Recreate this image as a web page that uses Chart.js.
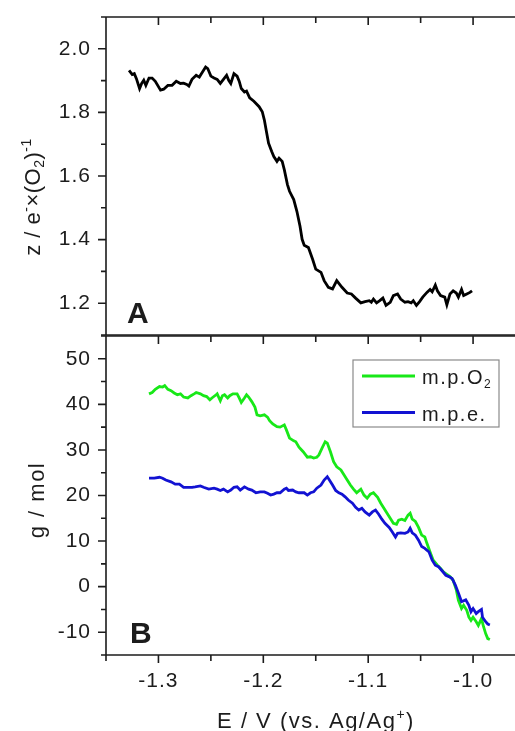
<!DOCTYPE html>
<html>
<head>
<meta charset="utf-8">
<script src="https://cdn.jsdelivr.net/npm/chart.js@4.4.1/dist/chart.umd.min.js"></script>
<style>
  html, body { margin: 0; padding: 0; background: #fff; overflow: hidden; }
  #wrap { position: relative; width: 515px; height: 731px; overflow: hidden; }
  #wrap canvas { position: absolute; left: 0; }
  #panelA { top: 0; }
  #panelB { top: 326px; }
</style>
</head>
<body>
<div id="wrap">
  <canvas id="panelA" width="540" height="345"></canvas>
  <canvas id="panelB" width="540" height="405"></canvas>
</div>
<script>
const FONT = '"Liberation Sans", Arial, Helvetica, sans-serif';
const INK = '#1c1c1c';

// potential axis, V vs. Ag/Ag+
const xMin = -1.35, xMax = -0.94;
const xTickValues = [-1.3, -1.2, -1.1, -1.0];
const zTickValues = [1.2, 1.4, 1.6, 1.8, 2.0];
const gTickValues = [-10, 0, 10, 20, 30, 40, 50];

// panel A: electrons per O2
const topE = [-1.328, -1.325, -1.323, -1.321, -1.318, -1.316, -1.314, -1.312, -1.309, -1.306,
  -1.303, -1.298, -1.295, -1.291, -1.287, -1.283, -1.279, -1.276, -1.273, -1.271,
  -1.268, -1.264, -1.261, -1.258, -1.255, -1.253, -1.250, -1.247, -1.244, -1.241,
  -1.238, -1.235, -1.233, -1.231, -1.228, -1.225, -1.223, -1.221, -1.218, -1.216,
  -1.213, -1.209, -1.204, -1.201, -1.199, -1.197, -1.195, -1.192, -1.190, -1.187,
  -1.185, -1.182, -1.180, -1.177, -1.175, -1.171, -1.168, -1.165, -1.163, -1.161,
  -1.157, -1.153, -1.150, -1.145, -1.142, -1.138, -1.134, -1.130, -1.125, -1.120,
  -1.116, -1.112, -1.107, -1.103, -1.099, -1.097, -1.095, -1.092, -1.089, -1.086,
  -1.083, -1.079, -1.076, -1.072, -1.069, -1.065, -1.062, -1.059, -1.057, -1.054,
  -1.051, -1.048, -1.044, -1.041, -1.039, -1.036, -1.034, -1.031, -1.027, -1.025,
  -1.022, -1.019, -1.016, -1.014, -1.011, -1.009, -1.006, -1.003, -1.001];
const topZ = [1.932, 1.919, 1.922, 1.906, 1.875, 1.891, 1.901, 1.885, 1.908, 1.908,
  1.898, 1.870, 1.873, 1.885, 1.885, 1.898, 1.891, 1.892, 1.888, 1.883,
  1.904, 1.917, 1.911, 1.927, 1.943, 1.938, 1.914, 1.908, 1.904, 1.891,
  1.904, 1.917, 1.901, 1.891, 1.922, 1.914, 1.898, 1.875, 1.864, 1.867,
  1.846, 1.835, 1.818, 1.802, 1.776, 1.739, 1.703, 1.677, 1.661, 1.646,
  1.656, 1.646, 1.620, 1.573, 1.552, 1.526, 1.489, 1.442, 1.401, 1.382,
  1.375, 1.338, 1.307, 1.297, 1.271, 1.250, 1.245, 1.271, 1.250, 1.232,
  1.229, 1.216, 1.201, 1.205, 1.208, 1.203, 1.213, 1.201, 1.208, 1.216,
  1.193, 1.203, 1.224, 1.229, 1.213, 1.203, 1.205, 1.201, 1.208, 1.193,
  1.205, 1.219, 1.234, 1.243, 1.236, 1.257, 1.239, 1.224, 1.219, 1.195,
  1.229, 1.239, 1.232, 1.219, 1.243, 1.224, 1.229, 1.234, 1.239];

// panel B: mass per O2 (green) and mass per electron (blue)
const mpo2E = [-1.309, -1.306, -1.303, -1.299, -1.296, -1.294, -1.291, -1.288, -1.285, -1.282,
  -1.279, -1.276, -1.272, -1.269, -1.266, -1.264, -1.260, -1.257, -1.254, -1.251,
  -1.249, -1.245, -1.244, -1.241, -1.239, -1.237, -1.234, -1.232, -1.229, -1.225,
  -1.223, -1.221, -1.218, -1.216, -1.214, -1.211, -1.208, -1.206, -1.203, -1.199,
  -1.196, -1.194, -1.191, -1.187, -1.184, -1.180, -1.178, -1.175, -1.171, -1.169,
  -1.166, -1.162, -1.158, -1.155, -1.152, -1.149, -1.147, -1.144, -1.141, -1.139,
  -1.136, -1.133, -1.130, -1.126, -1.123, -1.120, -1.117, -1.114, -1.111, -1.107,
  -1.104, -1.101, -1.098, -1.095, -1.091, -1.088, -1.085, -1.082, -1.079, -1.076,
  -1.073, -1.071, -1.068, -1.065, -1.062, -1.060, -1.058, -1.055, -1.052, -1.049,
  -1.046, -1.044, -1.041, -1.038, -1.034, -1.031, -1.028, -1.025, -1.022, -1.019,
  -1.016, -1.014, -1.011, -1.009, -1.006, -1.004, -1.002, -1.000, -0.997, -0.995,
  -0.992, -0.990, -0.988, -0.986, -0.984];
const mpo2G = [42.3, 42.6, 43.3, 43.9, 43.8, 44.1, 43.3, 43.0, 42.5, 42.1,
  42.3, 41.6, 41.4, 41.9, 42.3, 42.6, 42.3, 41.9, 41.7, 41.0,
  41.4, 42.1, 42.3, 40.8, 41.9, 42.1, 41.4, 41.9, 42.3, 42.3,
  41.4, 40.4, 41.4, 42.1, 41.6, 40.6, 39.4, 37.7, 37.5, 37.7,
  37.2, 36.4, 35.7, 35.1, 35.0, 35.5, 34.4, 32.6, 32.0, 31.8,
  30.6, 29.6, 28.4, 28.5, 28.2, 28.4, 28.9, 30.4, 31.8, 31.5,
  29.6, 27.4, 26.3, 25.6, 24.5, 23.4, 22.3, 21.4, 20.6, 21.4,
  20.1, 19.4, 20.3, 20.6, 19.6, 18.3, 17.2, 16.1, 15.0, 13.9,
  13.7, 14.6, 14.8, 14.5, 15.7, 16.1, 14.8, 14.3, 13.0, 11.3,
  10.9, 9.5, 7.6, 5.8, 4.7, 4.0, 3.2, 2.7, 2.2, 1.4,
  -0.7, -3.0, -4.8, -4.1, -5.2, -6.7, -7.4, -6.7, -7.7, -8.5,
  -7.0, -8.8, -10.3, -11.4, -11.6];

const mpeE = [-1.309, -1.304, -1.299, -1.296, -1.293, -1.288, -1.284, -1.280, -1.276, -1.272,
  -1.268, -1.265, -1.260, -1.257, -1.252, -1.247, -1.244, -1.241, -1.238, -1.234,
  -1.231, -1.228, -1.225, -1.222, -1.218, -1.214, -1.211, -1.207, -1.203, -1.199,
  -1.196, -1.193, -1.190, -1.187, -1.184, -1.180, -1.178, -1.176, -1.172, -1.169,
  -1.166, -1.161, -1.158, -1.155, -1.152, -1.149, -1.145, -1.142, -1.139, -1.137,
  -1.134, -1.131, -1.128, -1.125, -1.122, -1.119, -1.115, -1.112, -1.109, -1.106,
  -1.103, -1.099, -1.096, -1.093, -1.090, -1.087, -1.084, -1.080, -1.077, -1.074,
  -1.072, -1.069, -1.065, -1.062, -1.060, -1.058, -1.055, -1.052, -1.049, -1.046,
  -1.042, -1.039, -1.036, -1.033, -1.030, -1.026, -1.023, -1.020, -1.017, -1.014,
  -1.011, -1.007, -1.004, -1.002, -1.000, -0.997, -0.995, -0.992, -0.991, -0.988,
  -0.986, -0.984];
const mpeG = [23.8, 23.8, 24.0, 23.8, 23.4, 23.0, 22.5, 22.5, 21.8, 21.8,
  21.8, 21.9, 22.1, 21.8, 21.4, 21.6, 21.4, 21.1, 21.4, 20.8,
  21.2, 21.8, 21.9, 21.2, 21.9, 21.4, 21.2, 20.6, 20.8, 20.8,
  20.5, 20.1, 20.3, 20.6, 20.6, 21.4, 21.6, 21.1, 21.2, 20.8,
  20.6, 20.6, 20.1, 20.6, 20.8, 21.6, 22.3, 23.4, 24.1, 23.4,
  22.3, 21.1, 20.6, 20.3, 19.7, 19.0, 18.3, 17.4, 16.8, 17.2,
  16.4, 15.7, 16.4, 16.8, 15.9, 14.8, 13.9, 13.0, 12.0, 10.9,
  11.7, 11.8, 11.7, 12.0, 12.8, 11.8, 11.3, 10.2, 8.8, 8.4,
  7.6, 5.8, 4.7, 4.4, 3.6, 2.5, 2.2, 1.8, 0.4, -1.4,
  -3.3, -2.9, -4.1, -5.5, -4.8, -5.9, -5.5, -5.0, -6.7, -7.7,
  -8.2, -8.4];

const GREEN = 'rgb(24, 232, 24)';
const BLUE = 'rgb(18, 18, 210)';

const toPoints = (xs, ys) => xs.map((x, i) => ({ x: x, y: ys[i] }));

// draws a string made of normal / sup / sub pieces, optionally rotated
function drawRich(ctx, parts, x, y, size, align, rotate, spacing) {
  const small = Math.round(size * 0.62);
  const fontOf = (p) => (p.s ? small : size) + 'px ' + FONT;
  ctx.save();
  ctx.letterSpacing = (spacing || 0) + 'px';
  let total = 0;
  parts.forEach(p => { ctx.font = fontOf(p); total += ctx.measureText(p.t).width; });
  ctx.translate(x, y);
  if (rotate) ctx.rotate(-Math.PI / 2);
  let cx = align === 'center' ? -total / 2 : 0;
  ctx.fillStyle = INK;
  ctx.textBaseline = 'alphabetic';
  ctx.textAlign = 'left';
  parts.forEach(p => {
    ctx.font = fontOf(p);
    let dy = 0;
    if (p.s === 'sup') dy = -size * 0.42;
    if (p.s === 'sub') dy = size * 0.2;
    ctx.fillText(p.t, cx, dy);
    cx += ctx.measureText(p.t).width;
  });
  ctx.restore();
}

// slightly wider tracking for the tick labels Chart.js draws
const trackingPlugin = {
  id: 'tracking',
  beforeDraw(chart) { chart.ctx.letterSpacing = '1px'; }
};

// axis lines plus Origin-style major/minor tick marks
const framePlugin = {
  id: 'frame',
  afterDraw(chart, args, o) {
    const { ctx, chartArea: a, scales } = chart;
    const xs = scales.x, ys = scales.y;
    ctx.save();
    ctx.strokeStyle = INK;
    ctx.lineWidth = 1.6;
    ctx.beginPath();
    ctx.moveTo(a.left, a.bottom + (o.leftOvershoot || 0));
    ctx.lineTo(a.left, a.top - 0.8);
    ctx.moveTo(a.left - 0.8, a.top);
    ctx.lineTo(a.right, a.top);
    if (o.bottomLine) {
      ctx.moveTo(a.left - 0.8, a.bottom);
      ctx.lineTo(a.right, a.bottom);
    }
    // y ticks, pointing outwards
    const yMin = ys.min, yMax = ys.max;
    for (let v = Math.ceil(yMin / o.yMinor) * o.yMinor; v <= yMax + 1e-9; v += o.yMinor) {
      const major = Math.abs(v / o.yMajor - Math.round(v / o.yMajor)) < 1e-6;
      const py = ys.getPixelForValue(v);
      ctx.moveTo(a.left, py);
      ctx.lineTo(a.left - (major ? 8 : 5), py);
    }
    // x ticks every 0.05 V
    for (let k = 0; ; k++) {
      const v = xMin + k * 0.05;
      if (v > xs.max + 1e-9) break;
      const px = xs.getPixelForValue(v);
      const major = Math.abs(v * 10 - Math.round(v * 10)) < 1e-6;
      const len = major ? 8 : 6;
      o.xTicks.forEach(t => {
        const base = t === 'top' ? a.top : a.bottom;
        ctx.moveTo(px, base);
        ctx.lineTo(px, base + len);
      });
    }
    ctx.stroke();
    ctx.restore();
  }
};

// panel captions, axis titles and boxed legend
const labelPlugin = {
  id: 'labels',
  afterDraw(chart, args, o) {
    const ctx = chart.ctx;
    ctx.save();
    ctx.letterSpacing = '0px';
    ctx.fillStyle = INK;
    ctx.font = 'bold 30px ' + FONT;
    ctx.textBaseline = 'alphabetic';
    ctx.fillText(o.letter.t, o.letter.x, o.letter.y);
    ctx.restore();
    o.titles.forEach(t => drawRich(ctx, t.parts, t.x, t.y, t.size, 'center', t.rotate, t.spacing));
    if (o.legend) {
      const L = o.legend;
      ctx.save();
      ctx.fillStyle = '#fff';
      ctx.fillRect(L.x, L.y, L.w, L.h);
      ctx.strokeStyle = '#8a8a8a';
      ctx.lineWidth = 1.2;
      ctx.strokeRect(L.x, L.y, L.w, L.h);
      L.items.forEach((it, i) => {
        const ds = chart.data.datasets[it.ds];
        const ly = L.y + L.firstRow + i * L.rowGap;
        ctx.strokeStyle = ds.borderColor;
        ctx.lineWidth = 3;
        ctx.beginPath();
        ctx.moveTo(L.x + 9, ly);
        ctx.lineTo(L.x + 62, ly);
        ctx.stroke();
        drawRich(ctx, it.parts, L.x + 69, ly + 8, 20, 'left', false, 1.5);
      });
      ctx.restore();
    }
  }
};

function baseScales(yTicks, yMin, yMax, fmt) {
  return {
    x: {
      type: 'linear', min: xMin, max: xMax,
      grid: { display: false }, border: { display: false },
      ticks: { display: false }
    },
    y: {
      type: 'linear', min: yMin, max: yMax,
      grid: { display: false }, border: { display: false },
      afterBuildTicks: s => { s.ticks = yTicks.map(v => ({ value: v })); },
      afterFit: s => { s.width = 106; s.paddingTop = 0; s.paddingBottom = 0; },
      ticks: {
        padding: 7, color: INK, font: { family: FONT, size: 21 },
        callback: v => fmt(v)
      }
    }
  };
}

Chart.defaults.font.family = FONT;
Chart.defaults.animation = false;

// panel A
const scalesA = baseScales(zTickValues, 1.1, 2.1, v => v.toFixed(1));
scalesA.x.display = false;
new Chart(document.getElementById('panelA'), {
  type: 'scatter',
  data: {
    datasets: [{
      label: 'z',
      data: toPoints(topE, topZ),
      showLine: true, borderColor: '#000', borderWidth: 2.8,
      pointRadius: 0, tension: 0
    }]
  },
  options: {
    responsive: false,
    layout: { padding: { top: 17, left: 0, right: 4, bottom: 10 } },
    scales: scalesA,
    plugins: {
      legend: { display: false }, tooltip: { enabled: false },
      frame: { xTicks: ['top'], yMajor: 0.2, yMinor: 0.1, bottomLine: true },
      labels: {
        letter: { t: 'A', x: 127, y: 323 },
        titles: [{
          parts: [{ t: 'z / e' }, { t: '-', s: 'sup' }, { t: '×(O' }, { t: '2', s: 'sub' },
                  { t: ')' }, { t: '-1', s: 'sup' }],
          x: 40, y: 197, size: 22, rotate: true, spacing: 0.5
        }]
      }
    }
  },
  plugins: [trackingPlugin, framePlugin, labelPlugin]
});

// panel B
const scalesB = baseScales(gTickValues, -15, 55, v => String(v));
scalesB.x.display = true;
scalesB.x.afterBuildTicks = s => { s.ticks = xTickValues.map(v => ({ value: v })); };
scalesB.x.afterFit = s => { s.height = 76; s.paddingLeft = 0; s.paddingRight = 0; };
scalesB.x.ticks = {
  display: true, padding: 6, color: INK, maxRotation: 0, autoSkip: false,
  font: { family: FONT, size: 21 }, callback: v => v.toFixed(1)
};
new Chart(document.getElementById('panelB'), {
  type: 'scatter',
  data: {
    datasets: [{
      label: 'm.p.O2',
      data: toPoints(mpo2E, mpo2G),
      showLine: true, borderColor: GREEN, borderWidth: 2.8,
      pointRadius: 0, tension: 0, order: 1
    }, {
      label: 'm.p.e.',
      data: toPoints(mpeE, mpeG),
      showLine: true, borderColor: BLUE, borderWidth: 2.8,
      pointRadius: 0, tension: 0, order: 0
    }]
  },
  options: {
    responsive: false,
    layout: { padding: { top: 10, left: 0, right: 4, bottom: 0 } },
    scales: scalesB,
    plugins: {
      legend: { display: false }, tooltip: { enabled: false },
      frame: { xTicks: ['top', 'bottom'], yMajor: 10, yMinor: 5, bottomLine: true, leftOvershoot: 3 },
      labels: {
        letter: { t: 'B', x: 130, y: 317 },
        titles: [{
          parts: [{ t: 'g / mol' }], x: 44, y: 174, size: 22, rotate: true, spacing: 1.5
        }, {
          parts: [{ t: 'E / V (vs. Ag/Ag' }, { t: '+', s: 'sup' }, { t: ')' }],
          x: 316, y: 402, size: 22, rotate: false, spacing: 1.5
        }],
        legend: {
          x: 353, y: 34, w: 146, h: 67, firstRow: 16, rowGap: 36.5,
          items: [
            { ds: 0, parts: [{ t: 'm.p.O' }, { t: '2', s: 'sub' }] },
            { ds: 1, parts: [{ t: 'm.p.e.' }] }
          ]
        }
      }
    }
  },
  plugins: [trackingPlugin, framePlugin, labelPlugin]
});
</script>
</body>
</html>
